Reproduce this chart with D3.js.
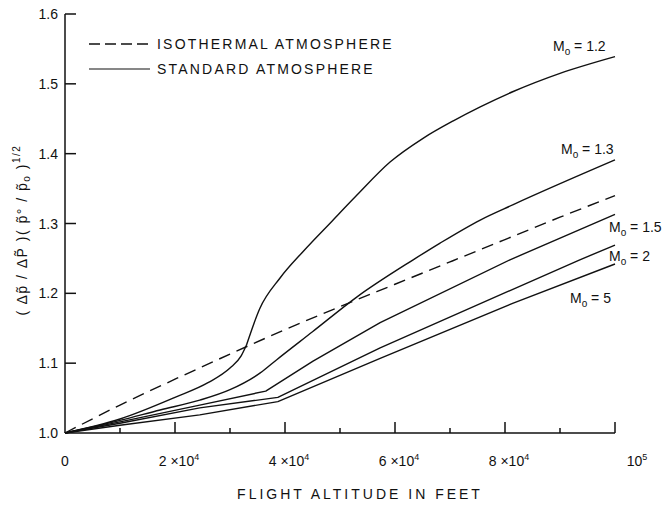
<!DOCTYPE html>
<html>
<head>
<meta charset="utf-8">
<script src="https://cdn.jsdelivr.net/npm/d3@7"></script>
<style>
  body { margin: 0; background: #fff; }
  text { font-family: "Liberation Sans", "DejaVu Sans", sans-serif; fill: #111; }
</style>
</head>
<body>
<svg id="chart" width="663" height="506"></svg>
<script>
// altitude in thousands of feet
var isoAlt  = [0, 10, 20, 30, 40, 50, 60, 70, 80, 90, 100];
var isoVal  = [1.0, 1.040, 1.077, 1.113, 1.148, 1.181, 1.213, 1.245, 1.277, 1.309, 1.340];

// M=1.2 has a sharp corner at 33.0 (index 6)
var m12Alt = [0, 10, 20, 26, 30, 32, 33.0, 35.4, 39.1, 43.3, 48.5, 53.0, 59.1, 65.1, 70.6, 75.5, 81.5, 90, 100];
var m12Val = [1.0, 1.020, 1.051, 1.072, 1.093, 1.110, 1.126, 1.178, 1.222, 1.260, 1.303, 1.340, 1.388, 1.422, 1.447, 1.467, 1.489, 1.515, 1.539];
var m12Corner = 6;

var m13Alt = [0, 10, 17.3, 24.5, 30, 35.5, 38.5, 45, 53.1, 63.3, 68.2, 75.5, 81.5, 100];
var m13Val = [1.0, 1.018, 1.033, 1.047, 1.062, 1.086, 1.105, 1.145, 1.195, 1.248, 1.272, 1.305, 1.327, 1.391];

var m15Alt = [0, 10, 24.5, 36.5, 45.1, 57.3, 80.9, 100];
var m15Val = [1.0, 1.016, 1.040, 1.060, 1.103, 1.158, 1.248, 1.313];

var m2Alt = [0, 10, 24.5, 38.7, 57.3, 93.6, 100];
var m2Val = [1.0, 1.014, 1.036, 1.051, 1.122, 1.248, 1.269];

var m5Alt = [0, 10, 24.5, 38.7, 57.3, 81.5, 100];
var m5Val = [1.0, 1.011, 1.026, 1.045, 1.107, 1.186, 1.242];

var yTicks = [1.0, 1.1, 1.2, 1.3, 1.4, 1.5, 1.6];
var yTickLabels = ["1.0", "1.1", "1.2", "1.3", "1.4", "1.5", "1.6"];
var xMajor = [0, 20000, 40000, 60000, 80000, 100000];
var xMajorBase = ["0", "2 \u00d710", "4 \u00d710", "6 \u00d710", "8 \u00d710", "10"];
var xMajorExp  = ["", "4", "4", "4", "4", "5"];
var xMinor = [10000, 30000, 50000, 70000, 90000];
var machLabels = ["1.2", "1.3", "1.5", "2", "5"];

var svg = d3.select("#chart");

var x = d3.scaleLinear().domain([0, 100000]).range([65, 615]);
var y = d3.scaleLinear().domain([1.0, 1.6]).range([433, 14]);

// axes
var ax = svg.append("g").attr("stroke", "#111").attr("stroke-width", 1.5);
ax.append("line").attr("x1", x(0)).attr("x2", x(0)).attr("y1", y(1.0)).attr("y2", y(1.6));
ax.append("line").attr("x1", x(0)).attr("x2", x(100000)).attr("y1", y(1.0)).attr("y2", y(1.0));

ax.selectAll(".yt").data(yTicks.slice(1)).enter().append("line")
    .attr("x1", x(0)).attr("x2", x(0) + 11)
    .attr("y1", d => y(d)).attr("y2", d => y(d));

ax.selectAll(".xM").data(xMajor.slice(1)).enter().append("line")
    .attr("x1", d => x(d)).attr("x2", d => x(d))
    .attr("y1", y(1.0)).attr("y2", y(1.0) - 11);

ax.selectAll(".xm").data(xMinor).enter().append("line")
    .attr("x1", d => x(d)).attr("x2", d => x(d))
    .attr("y1", y(1.0)).attr("y2", y(1.0) - 5);

svg.selectAll(".ylab").data(yTicks).enter().append("text")
    .attr("x", 58).attr("y", d => y(d) + 5)
    .attr("text-anchor", "end")
    .attr("font-size", 14)
    .text((d, i) => yTickLabels[i]);

var xl = svg.selectAll(".xlab").data(xMajor).enter().append("text")
    .attr("x", (d, i) => x(d) + (i == 5 ? 22 : (i > 0 ? 4 : 0)))
    .attr("y", 466)
    .attr("text-anchor", "middle")
    .attr("font-size", 14);
xl.append("tspan").text((d, i) => xMajorBase[i]);
xl.append("tspan").attr("dy", -6).attr("font-size", 9).text((d, i) => xMajorExp[i]);

svg.append("text")
    .attr("x", 360).attr("y", 499)
    .attr("text-anchor", "middle")
    .attr("font-size", 14)
    .attr("letter-spacing", 3)
    .text("FLIGHT ALTITUDE IN FEET");

// y label
var yl = svg.append("text")
    .attr("transform", "translate(27,230) rotate(-90)")
    .attr("text-anchor", "middle")
    .attr("font-size", 14)
    .attr("letter-spacing", 1.5);
yl.append("tspan").text("( \u0394p\u0303 / \u0394P\u0303 )( p\u0303\u00b0 / p\u0303");
yl.append("tspan").attr("dy", 3).attr("font-size", 10).text("o");
yl.append("tspan").attr("dy", -3).text(" )");
yl.append("tspan").attr("dy", -7).attr("font-size", 10).text("1/2");

// curves
var smooth = d3.line()
    .x(d => x(d[0] * 1000))
    .y(d => y(d[1]))
    .curve(d3.curveMonotoneX);
var straight = d3.line()
    .x(d => x(d[0] * 1000))
    .y(d => y(d[1]));

function drawCurve(pts, gen, dash) {
    var p = svg.append("path")
        .datum(pts)
        .attr("d", gen)
        .attr("fill", "none")
        .attr("stroke", "#111")
        .attr("stroke-width", 1.4)
        .attr("stroke-linejoin", "round");
    if (dash) p.attr("stroke-dasharray", dash);
}

var m12 = d3.zip(m12Alt, m12Val);
drawCurve(m12.slice(0, m12Corner + 1), smooth);
drawCurve(m12.slice(m12Corner), smooth);
drawCurve(d3.zip(m13Alt, m13Val), smooth);
drawCurve(d3.zip(m15Alt, m15Val), straight);
drawCurve(d3.zip(m2Alt, m2Val), straight);
drawCurve(d3.zip(m5Alt, m5Val), straight);
drawCurve(d3.zip(isoAlt, isoVal), smooth, "12,7");

// legend
svg.append("line").attr("x1", 89).attr("x2", 150).attr("y1", 44).attr("y2", 44)
    .attr("stroke", "#111").attr("stroke-width", 1.4).attr("stroke-dasharray", "11,5");
svg.append("line").attr("x1", 89).attr("x2", 150).attr("y1", 69).attr("y2", 69)
    .attr("stroke", "#111").attr("stroke-width", 1.2);
svg.append("text").attr("x", 157).attr("y", 49).attr("font-size", 14).attr("letter-spacing", 2.2)
    .text("ISOTHERMAL ATMOSPHERE");
svg.append("text").attr("x", 157).attr("y", 74).attr("font-size", 14).attr("letter-spacing", 2.2)
    .text("STANDARD ATMOSPHERE");

// Mach labels
var machPos = [[553, 51], [561, 154], [609, 232], [609, 261], [570, 303]];
var machSep = [" = ", " = ", " = ", "  =  ", "  =  "];
machLabels.forEach(function(m, i) {
    var t = svg.append("text")
        .attr("x", machPos[i][0]).attr("y", machPos[i][1])
        .attr("font-size", 14);
    t.append("tspan").text("M");
    t.append("tspan").attr("dy", 4).attr("font-size", 10).text("o");
    t.append("tspan").attr("dy", -4).text(machSep[i] + m);
});
</script>
</body>
</html>
